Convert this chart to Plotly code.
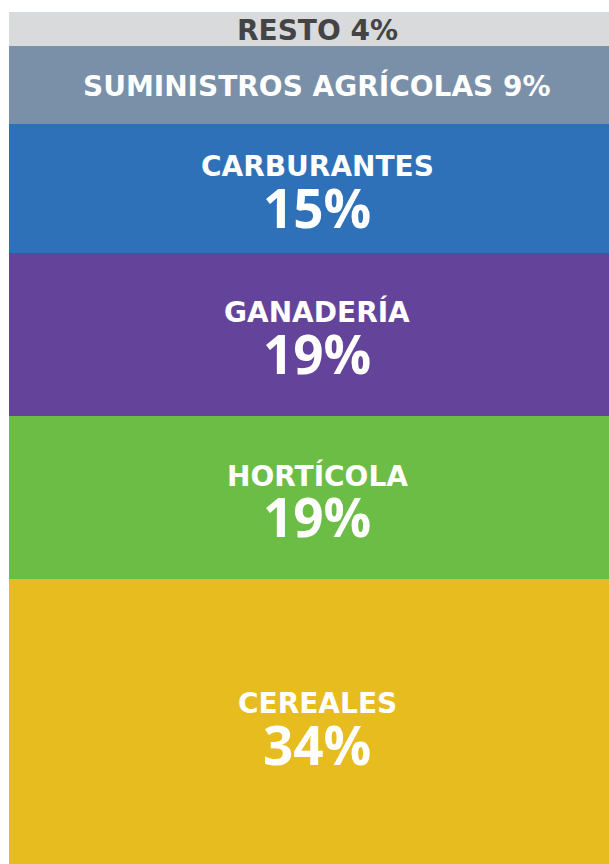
import plotly.graph_objects as go

categories = ["CEREALES", "HORTÍCOLA", "GANADERÍA", "CARBURANTES", "SUMINISTROS AGRÍCOLAS", "RESTO"]
values = [34, 19, 19, 15, 9, 4]
colors = ["#e6bc1f", "#6cbd45", "#64449a", "#2e71b8", "#7a90a8", "#d9dadc"]

LABEL_FONT = "DejaVu Sans"
PCT_FONT = "Open Sans"

fig = go.Figure()
for cat, val, col in zip(categories, values, colors):
    fig.add_trace(go.Bar(x=["total"], y=[val], name=cat, marker=dict(color=col, line=dict(width=0)),
                         hoverinfo="name+y"))

annotations = []
cum = 0
for cat, val in zip(categories, values):
    mid = cum + val / 2
    cum += val
    if val >= 15:
        annotations.append(dict(x="total", y=mid, text=f"<b>{cat}</b>", showarrow=False,
                                font=dict(family=LABEL_FONT, size=28, color="white", weight=700),
                                yshift=22, xshift=8))
        annotations.append(dict(x="total", y=mid, text=f"<b>{val}%</b>", showarrow=False,
                                font=dict(family=PCT_FONT, size=53, color="white", weight=800),
                                yshift=-19, xshift=8))
    else:
        color = "white" if cat != "RESTO" else "#444446"
        annotations.append(dict(x="total", y=mid, text=f"<b>{cat} {val}%</b>", showarrow=False,
                                font=dict(family=LABEL_FONT, size=28, color=color, weight=700),
                                xshift=8, yshift=-1))

fig.update_layout(
    barmode="stack",
    bargap=0,
    width=609, height=864,
    margin=dict(l=9, r=0, t=12, b=0),
    paper_bgcolor="white",
    plot_bgcolor="white",
    showlegend=False,
    xaxis=dict(visible=False),
    yaxis=dict(visible=False, range=[0.9, 100]),
    annotations=annotations,
)

fig.write_html("out.html",
               config={"displayModeBar": False},
               post_script="document.body.style.margin='0';document.body.style.overflow='hidden';")
